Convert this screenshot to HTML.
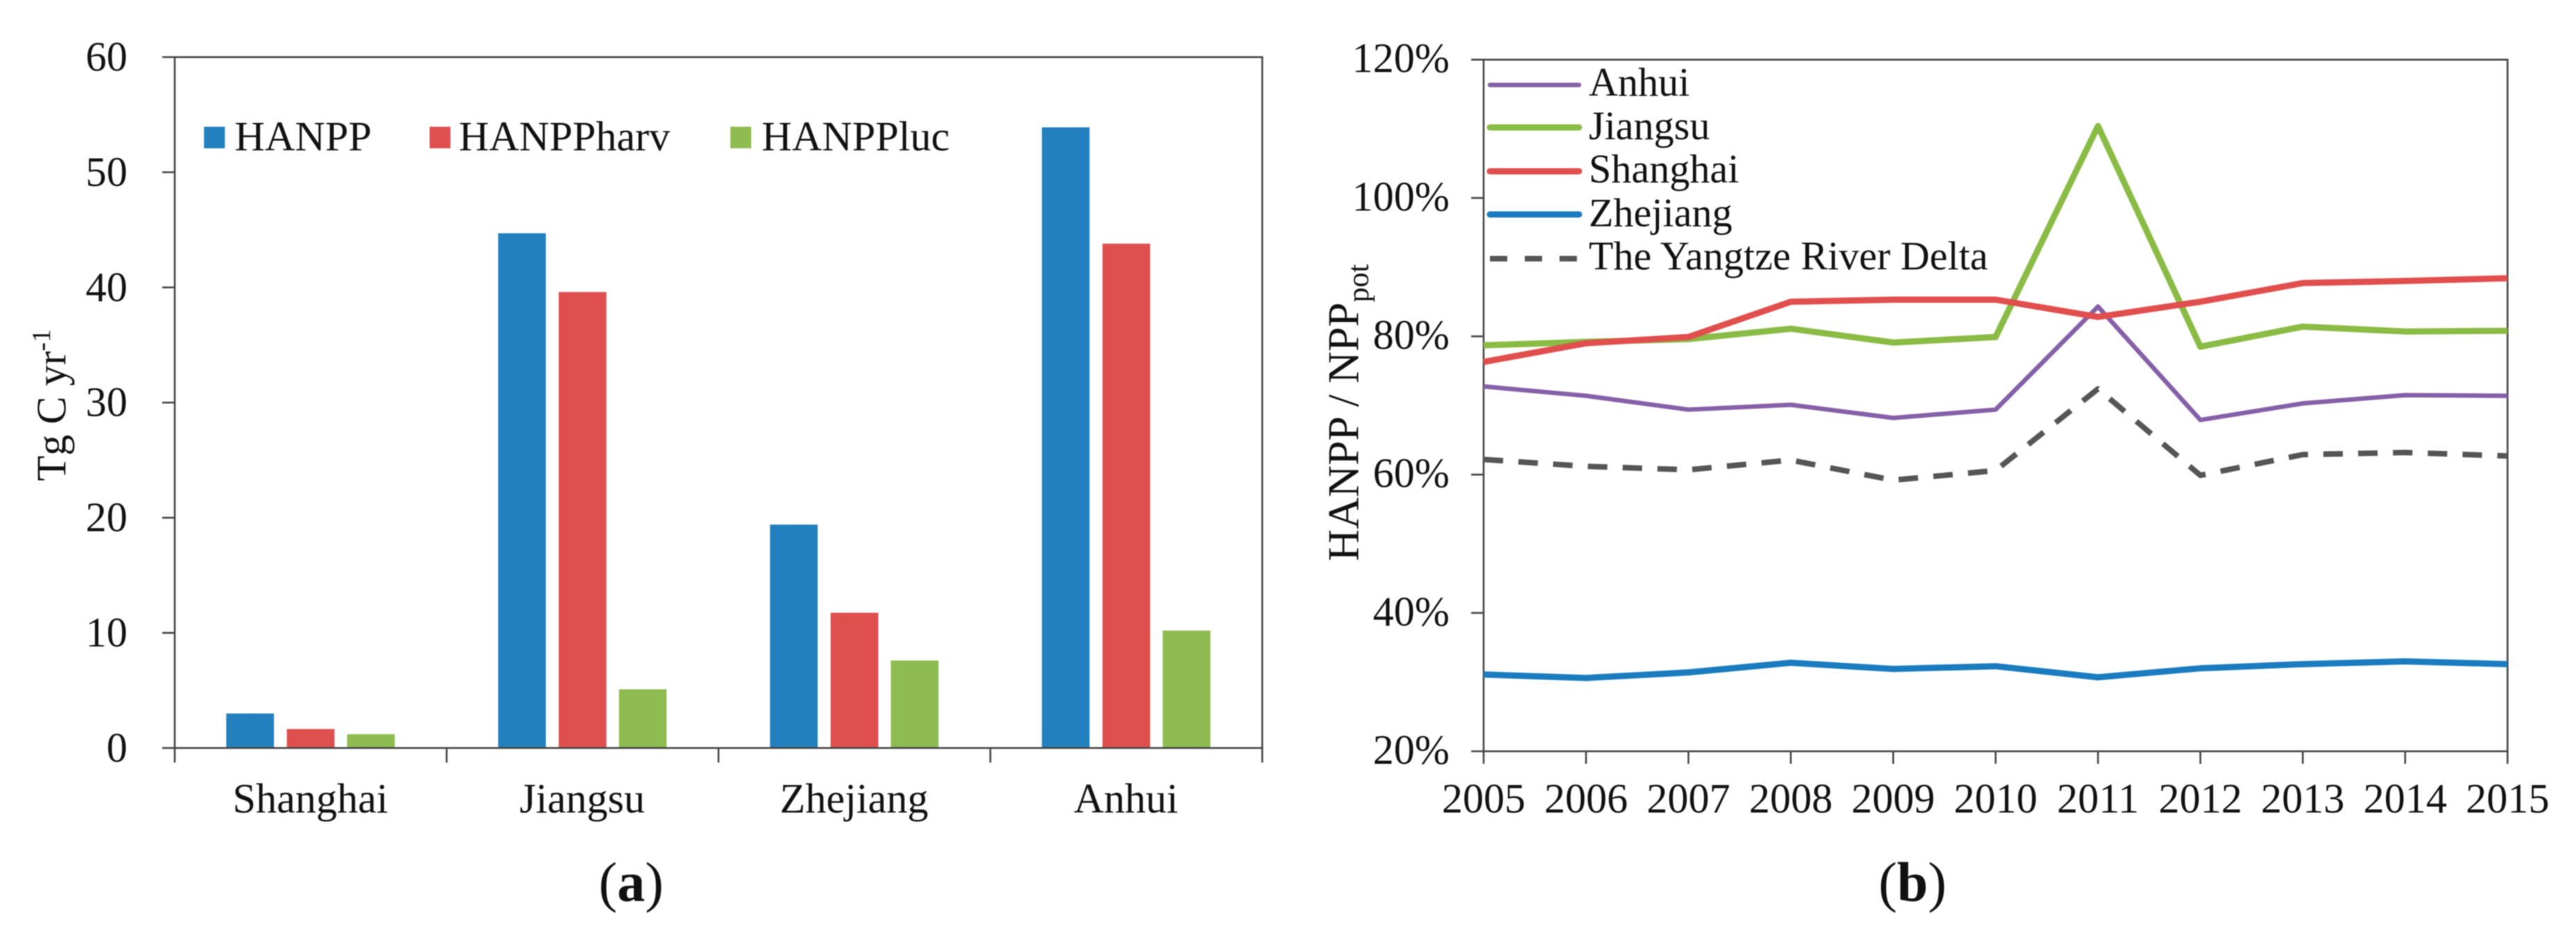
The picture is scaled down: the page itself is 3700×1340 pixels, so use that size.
<!DOCTYPE html>
<html lang="en">
<head>
<meta charset="utf-8">
<title>HANPP by province and HANPP / NPPpot over time</title>
<style>
html,body{margin:0;padding:0;background:#fff;width:3700px;height:1340px;overflow:hidden}
svg{display:block;filter:blur(0.7px)}
text{font-family:"Liberation Serif","Noto Serif CJK SC",serif;fill:#111}
</style>
</head>
<body>
<svg id="figure" xmlns="http://www.w3.org/2000/svg" width="3700" height="1340" viewBox="0 0 3700 1340"></svg>
<script>
// Panel (a) data
const barCategories = ['Shanghai', 'Jiangsu', 'Zhejiang', 'Anhui'];
const barSeriesNames = ['HANPP', 'HANPPharv', 'HANPPluc'];
const hanppValues = [3.0, 44.7, 19.4, 53.9];
const hanppHarvValues = [1.65, 39.6, 11.75, 43.8];
const hanppLucValues = [1.2, 5.1, 7.6, 10.2];
const barYTicks = [0, 10, 20, 30, 40, 50, 60];

// Panel (b) data
const years = [2005, 2006, 2007, 2008, 2009, 2010, 2011, 2012, 2013, 2014, 2015];
const lineYTicks = [20, 40, 60, 80, 100, 120];
const anhuiValues = [72.75, 71.4, 69.4, 70.1, 68.2, 69.4, 84.3, 67.9, 70.3, 71.5, 71.4];
const jiangsuValues = [78.7, 79.2, 79.6, 81.1, 79.1, 79.9, 110.4, 78.5, 81.4, 80.7, 80.8];
const shanghaiValues = [76.3, 79.0, 79.9, 85.0, 85.3, 85.3, 82.8, 85.0, 87.7, 88.0, 88.4];
const zhejiangValues = [31.1, 30.6, 31.4, 32.8, 31.9, 32.3, 30.7, 32.0, 32.6, 33.0, 32.6];
const deltaValues = [62.2, 61.2, 60.7, 62.1, 59.2, 60.6, 72.4, 59.9, 62.9, 63.2, 62.7];
const lineSeriesNames = ['Anhui', 'Jiangsu', 'Shanghai', 'Zhejiang', 'The Yangtze River Delta'];

const svg = document.getElementById('figure');
const NS = 'http://www.w3.org/2000/svg';
const AXIS = '#444';

function make(tag, attrs, parent) {
  const el = document.createElementNS(NS, tag);
  for (const k in attrs) el.setAttribute(k, attrs[k]);
  (parent || svg).appendChild(el);
  return el;
}
function slug(s) { return String(s).toLowerCase().replace(/[^a-z0-9]+/g, '-'); }

/* ---------- Panel (a) ---------- */
const A = { left: 251, right: 1813, top: 82, bottom: 1074.3, max: 60 };
const yA = v => A.bottom - v * (A.bottom - A.top) / A.max;
const groupW = (A.right - A.left) / barCategories.length;
const xGroup = i => A.left + groupW * i;
const barWidth = 68.5;
const barOffset = s => (s === 0 ? -87 : s === 1 ? 0 : 86.5);
const barColors = ['#2380BF', '#DE4F4E', '#8FBC50'];
const barValues = [hanppValues, hanppHarvValues, hanppLucValues];

const panelA = make('g', {});



barValues.forEach((series, s) => {
  series.forEach((v, i) => {
    const cx = xGroup(i) + groupW / 2 + barOffset(s);
    const r = make('rect', { x: cx - barWidth / 2, y: yA(v), width: barWidth, height: yA(0) - yA(v), fill: barColors[s] }, panelA);
    
    
  });
});

const aFrame = make('rect', { x: A.left, y: A.top, width: A.right - A.left, height: A.bottom - A.top, fill: 'none', stroke: AXIS, 'stroke-width': 2.6 }, panelA);



barYTicks.forEach(t => {
  const tick = make('line', { x1: A.left - 18, x2: A.left, y1: yA(t), y2: yA(t), stroke: AXIS, 'stroke-width': 2.6 }, panelA);
  
  
  const lab = make('text', { x: 183, y: yA(t) + 19.5, 'text-anchor': 'end', 'font-size': 60 }, panelA);
  lab.textContent = t;
  
  
});

for (let i = 0; i <= barCategories.length; i++) {
  const tick = make('line', { x1: xGroup(i), x2: xGroup(i), y1: A.bottom, y2: A.bottom + 21, stroke: AXIS, 'stroke-width': 2.6 }, panelA);
  
  
}
barCategories.forEach((c, i) => {
  const lab = make('text', { x: xGroup(i) + groupW / 2 - 0.5, y: 1167, 'text-anchor': 'middle', 'font-size': 60 }, panelA);
  lab.textContent = c;
  
  
});

const aTitle = make('text', { transform: 'translate(94,691) rotate(-90)', 'font-size': 60 }, panelA);


aTitle.appendChild(document.createTextNode('Tg C yr'));
make('tspan', { dy: -22, 'font-size': 38 }, aTitle).textContent = '-1';

const aSwatchX = [293, 617, 1049];
const aLegendTextX = [337, 659, 1094];
barSeriesNames.forEach((n, s) => {
  const g = make('g', {}, panelA);
  
  
  make('rect', { x: aSwatchX[s], y: 182, width: 30, height: 31, fill: barColors[s] }, g);
  make('text', { x: aLegendTextX[s], y: 216, 'font-size': 60 }, g).textContent = n;
});

const aCaption = make('text', { x: 906.5, y: 1294, 'text-anchor': 'middle', 'font-size': 80 }, panelA);


aCaption.appendChild(document.createTextNode('('));
make('tspan', { 'font-weight': 'bold' }, aCaption).textContent = 'a';
aCaption.appendChild(document.createTextNode(')'));

/* ---------- Panel (b) ---------- */
const B = { left: 2131, right: 3601.7, top: 85.7, bottom: 1079, min: 20, max: 120 };
const xB = i => B.left + i * (B.right - B.left) / (years.length - 1);
const yB = v => B.bottom - (v - B.min) * (B.bottom - B.top) / (B.max - B.min);
const lineValues = [anhuiValues, jiangsuValues, shanghaiValues, zhejiangValues, deltaValues];
const lineColors = ['#8560A8', '#8ABB45', '#E04F4E', '#1A7CBF', '#555555'];
const lineWidths = [6.5, 9, 9, 9, 8];
const lineDashes = ['', '', '', '', '28 22'];

const panelB = make('g', {});



const bFrame = make('rect', { x: B.left, y: B.top, width: B.right - B.left, height: B.bottom - B.top, fill: 'none', stroke: AXIS, 'stroke-width': 2.6 }, panelB);



lineYTicks.forEach(t => {
  const tick = make('line', { x1: B.left - 18, x2: B.left, y1: yB(t), y2: yB(t), stroke: AXIS, 'stroke-width': 2.6 }, panelB);
  
  
  const lab = make('text', { x: 2082, y: yB(t) + 18, 'text-anchor': 'end', 'font-size': 60 }, panelB);
  lab.textContent = t + '%';
  
  
});

years.forEach((yr, i) => {
  const tick = make('line', { x1: xB(i), x2: xB(i), y1: B.bottom, y2: B.bottom + 18, stroke: AXIS, 'stroke-width': 2.6 }, panelB);
  
  
  const lab = make('text', { x: xB(i), y: 1167, 'text-anchor': 'middle', 'font-size': 60 }, panelB);
  lab.textContent = yr;
  
  
});

lineValues.forEach((series, s) => {
  const p = make('polyline', {
    points: series.map((v, i) => xB(i) + ',' + yB(v)).join(' '),
    fill: 'none', stroke: lineColors[s], 'stroke-width': lineWidths[s], 'stroke-linejoin': 'round'
  }, panelB);
  if (lineDashes[s]) p.setAttribute('stroke-dasharray', lineDashes[s]);
  
  
});

const legendLineY = [122, 183, 246, 308, 371.5];
const legendTextY = [137.7, 200, 262, 325, 387];
lineSeriesNames.forEach((n, s) => {
  const g = make('g', {}, panelB);
  
  
  const l = make('line', { x1: 2140, x2: 2268, y1: legendLineY[s], y2: legendLineY[s], stroke: lineColors[s], 'stroke-width': lineWidths[s], 'stroke-linecap': 'round' }, g);
  if (lineDashes[s]) { l.setAttribute('stroke-dasharray', '25 25'); l.setAttribute('stroke-linecap', 'butt'); }
  make('text', { x: 2282, y: legendTextY[s], 'font-size': 58 }, g).textContent = n;
});

const bTitle = make('text', { transform: 'translate(1951,806) rotate(-90)', 'font-size': 63.5 }, panelB);


bTitle.appendChild(document.createTextNode('HANPP / NPP'));
make('tspan', { dy: 14, 'font-size': 43 }, bTitle).textContent = 'pot';

const bCaption = make('text', { x: 2747, y: 1294, 'text-anchor': 'middle', 'font-size': 80 }, panelB);


bCaption.appendChild(document.createTextNode('('));
make('tspan', { 'font-weight': 'bold' }, bCaption).textContent = 'b';
bCaption.appendChild(document.createTextNode(')'));
</script>
</body>
</html>
